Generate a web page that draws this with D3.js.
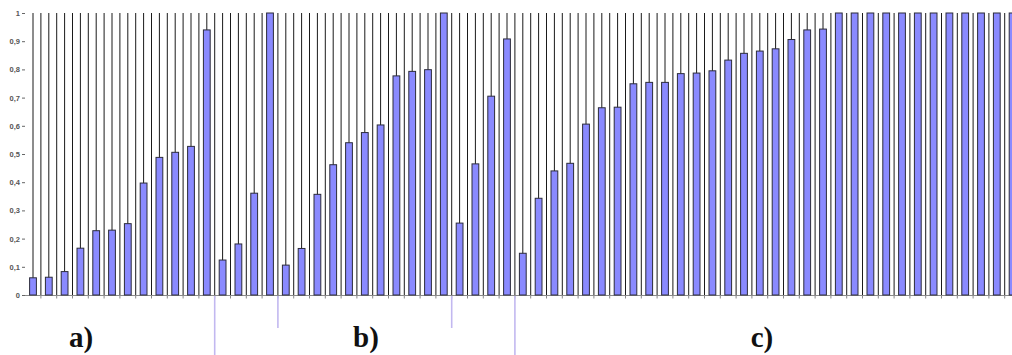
<!DOCTYPE html>
<html>
<head>
<meta charset="utf-8">
<script src="https://cdn.jsdelivr.net/npm/d3@7"></script>
<style>
  html, body { margin: 0; padding: 0; background: #fff; }
  svg { display: block; }
</style>
</head>
<body>
<svg id="chart" width="1012" height="355"></svg>
<script>
// ---- data ----
const groupLabels = ["a)", "b)", "c)"];
const valuesA  = [0.061, 0.063, 0.083, 0.166, 0.228, 0.230, 0.253, 0.397, 0.488, 0.506, 0.527, 0.940];
const valuesB1 = [0.124, 0.181, 0.361, 1.000];
const valuesB2 = [0.106, 0.165, 0.357, 0.462, 0.540, 0.576, 0.603, 0.777, 0.793, 0.799, 1.000];
const valuesB3 = [0.255, 0.465, 0.705, 0.908];
const valuesC  = [0.148, 0.343, 0.440, 0.467, 0.606, 0.664, 0.666, 0.749, 0.754, 0.754,
                  0.785, 0.787, 0.795, 0.833, 0.857, 0.865, 0.873, 0.906, 0.940, 0.943,
                  1.000, 1.000, 1.000, 1.000, 1.000, 1.000, 1.000, 1.000, 1.000, 1.000, 1.000, 1.000];
const yTicks = [0, 0.1, 0.2, 0.3, 0.4, 0.5, 0.6, 0.7, 0.8, 0.9, 1];

// groups: major groups hold sub-groups
const groups = [
  { label: groupLabels[0], subs: [valuesA] },
  { label: groupLabels[1], subs: [valuesB1, valuesB2, valuesB3] },
  { label: groupLabels[2], subs: [valuesC] }
];

// flatten
const data = [];
const longSeps = [], shortSeps = [];
const groupRanges = [];
groups.forEach((g, gi) => {
  const start = data.length;
  g.subs.forEach((s, si) => {
    s.forEach(v => data.push({ i: data.length, v }));
    if (si < g.subs.length - 1) shortSeps.push(data.length);
  });
  if (gi < groups.length - 1) longSeps.push(data.length);
  groupRanges.push({ label: g.label, start, end: data.length });
});

// ---- layout ----
const svg = d3.select("#chart");
const W = 1012, H = 355;
const step = 15.8;
const left = 25.1;
const x = d3.scaleBand()
  .domain(data.map(d => d.i))
  .range([left, left + data.length * step])
  .paddingInner(0).paddingOuter(0);
const y = d3.scaleLinear().domain([0, 1]).range([295, 13]);
const bw = x.bandwidth();
const barW = bw * 0.43;

// gridlines: at bar centers and boundaries between bars
const gridPos = [];
data.forEach(d => {
  gridPos.push(x(d.i) + bw / 2);
  gridPos.push(x(d.i) + bw);
});
svg.append("g").selectAll("line").data(gridPos).join("line")
  .attr("x1", d => d).attr("x2", d => d)
  .attr("y1", y(1)).attr("y2", y(0))
  .attr("stroke", "#1a1a1a").attr("stroke-width", 1);

// x axis line
svg.append("line")
  .attr("x1", 22).attr("x2", W)
  .attr("y1", y(0) + 0.5).attr("y2", y(0) + 0.5)
  .attr("stroke", "#8a8a8a").attr("stroke-width", 1.2);
// small ticks below axis at boundaries
svg.append("g").selectAll("line").data(data).join("line")
  .attr("x1", d => x(d.i) + bw).attr("x2", d => x(d.i) + bw)
  .attr("y1", y(0)).attr("y2", y(0) + 3.5)
  .attr("stroke", "#8a8a8a").attr("stroke-width", 1);

// y axis
const yAxis = d3.axisLeft(y)
  .tickValues(yTicks)
  .tickSize(3)
  .tickPadding(2)
  .tickFormat(d => d3.format("~g")(d).replace(".", ","));
const ya = svg.append("g").attr("transform", "translate(25,0)").call(yAxis);
ya.select(".domain").remove();
ya.selectAll(".tick line").attr("stroke", "#666");
ya.selectAll(".tick text")
  .attr("fill", "#555")
  .attr("font-family", "Liberation Sans, Arial, sans-serif")
  .attr("font-size", "7.5px")
  .attr("font-weight", "bold");

// bars
svg.append("g").selectAll("rect").data(data).join("rect")
  .attr("x", d => x(d.i) + (bw - barW) / 2)
  .attr("width", barW)
  .attr("y", d => y(d.v))
  .attr("height", d => y(0) - y(d.v))
  .attr("fill", "#8a8aff")
  .attr("stroke", "#2c2c3a")
  .attr("stroke-width", 1);

// separators below the axis
svg.append("g").selectAll("line").data(longSeps).join("line")
  .attr("x1", d => x(d)).attr("x2", d => x(d))
  .attr("y1", y(0) + 1).attr("y2", H)
  .attr("stroke", "#c2b8f0").attr("stroke-width", 1.6);
svg.append("g").selectAll("line").data(shortSeps).join("line")
  .attr("x1", d => x(d)).attr("x2", d => x(d))
  .attr("y1", y(0) + 1).attr("y2", 328)
  .attr("stroke", "#c2b8f0").attr("stroke-width", 1.6);

// group labels
const labelX = [81, 366, 762];
svg.append("g").selectAll("text").data(groupRanges).join("text")
  .attr("x", (d, i) => labelX[i])
  .attr("y", 347)
  .attr("text-anchor", "middle")
  .attr("fill", "#111")
  .attr("font-family", "Liberation Serif, DejaVu Serif, serif")
  .attr("font-weight", "bold")
  .attr("font-size", "29px")
  .text(d => d.label);
</script>
</body>
</html>
